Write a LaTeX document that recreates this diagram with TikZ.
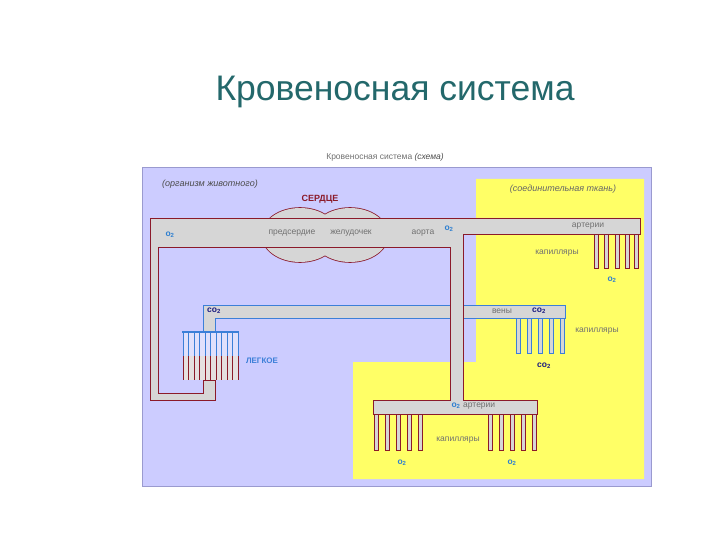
\documentclass[tikz,border=0pt]{standalone}
\usepackage{fontspec}
\setmainfont{Liberation Sans}
\definecolor{lav}{HTML}{CCCCFF}
\definecolor{panelb}{HTML}{9A9ACF}
\definecolor{yel}{HTML}{FFFF66}
\definecolor{tube}{HTML}{D6D6D6}
\definecolor{artred}{HTML}{8B1A2A}
\definecolor{vblue}{HTML}{3C7FD8}
\definecolor{txtg}{HTML}{707070}
\definecolor{teal}{HTML}{23686B}
\definecolor{oblue}{HTML}{2E7FD0}
\definecolor{dblue}{HTML}{1A1A80}
\begin{document}
\begin{tikzpicture}[x=1pt,y=-1pt,
  art/.style={fill=tube,draw=artred,line width=0.8pt},
  ven/.style={fill=tube,draw=vblue,line width=0.8pt},
  lbl/.style={text=txtg,font=\fontsize{8.5}{9}\selectfont,inner sep=0pt},
  ox/.style={text=oblue,font=\fontsize{8.5}{9}\selectfont\bfseries,inner sep=0pt},
  cox/.style={text=dblue,font=\fontsize{8.5}{9}\selectfont\bfseries,inner sep=0pt}]
\useasboundingbox (0,0) rectangle (720,540);
\fill[white] (0,0) rectangle (720,540);
\node[text=teal,font=\fontsize{35.5}{40}\selectfont,inner sep=0pt] (title) at (395,92) {Кровеносная система};
\node[text=txtg,font=\fontsize{8.5}{9}\selectfont,inner sep=0pt] (sub) at (385,157) {Кровеносная система \textcolor{black!70}{\itshape(схема)}};
% panel
\fill[lav,draw=panelb,line width=1pt] (142,168) rectangle (651,486);
\fill[yel] (476,179) -- (644,179) -- (644,479) -- (353,479) -- (353,362) -- (476,362) -- cycle;
\node[text=black!70,font=\fontsize{9}{10}\selectfont\itshape,inner sep=0pt] (org) at (210,184) {(организм животного)};
\node[text=black!60,font=\fontsize{9}{10}\selectfont\itshape,inner sep=0pt] (tis) at (563,189) {(соединительная ткань)};
% veins
\path[ven] (203,305) -- (565,305) -- (565,318) -- (215,318) -- (215,332) -- (203,332) -- cycle;
\foreach \x in {518,529,540,551,562}{\path[ven] (\x-2,318) rectangle (\x+2,353);}
% lung
\fill[black!10!blue!12] (183,332) rectangle (238,356);
\fill[red!15!black!12] (183,356) rectangle (238,380);
\foreach \i in {0,...,10}{
  \draw[vblue,line width=0.6pt] (183+\i*5.5,332) -- (183+\i*5.5,356);
  \draw[artred,line width=0.6pt] (183+\i*5.5,356) -- (183+\i*5.5,380);}
\draw[vblue,line width=1.6pt] (182,332) -- (239,332);
% heart lobes
\draw[artred,line width=1.6pt] (300,235) ellipse [x radius=38,y radius=27] (350,235) ellipse [x radius=38,y radius=27];
\fill[tube] (300,235) ellipse [x radius=38,y radius=27] (350,235) ellipse [x radius=38,y radius=27];
% arteries
\path[art] (150,218) -- (640,218) -- (640,234) -- (463,234) -- (463,400) -- (537,400) -- (537,414) -- (373,414) -- (373,400) -- (450,400) -- (450,247) -- (158,247) -- (158,393) -- (203,393) -- (203,380) -- (215,380) -- (215,400) -- (150,400) -- cycle;
\fill[tube] (266,218.6) rectangle (384,246.4);
\foreach \x in {596,606,617,627,636}{\path[art] (\x-2,234) rectangle (\x+2,268);}
\foreach \x in {376,387,398,409,420,490,501,512,523,534}{\path[art] (\x-2,414) rectangle (\x+2,450);}
% labels
\node[text=artred,font=\fontsize{9}{10}\selectfont\bfseries,inner sep=0pt] (heart) at (320,199) {СЕРДЦЕ};
\node[lbl] (atr) at (292,233) {предсердие};
\node[lbl] (ven) at (351,233) {желудочек};
\node[lbl] (aor) at (423,233) {аорта};
\node[ox] (o1) at (449,229) {o\textsubscript{2}};
\node[ox] (o0) at (170,235) {o\textsubscript{2}};
\node[lbl] (art1) at (588,226) {артерии};
\node[lbl] (cap1) at (557,253) {капилляры};
\node[ox] (o3) at (612,280) {o\textsubscript{2}};
\node[cox] (co1) at (214,311) {co\textsubscript{2}};
\node[lbl] (veny) at (502,311) {вены};
\node[cox] (co2) at (539,311) {co\textsubscript{2}};
\node[lbl] (cap2) at (597,331) {капилляры};
\node[cox] (co3) at (544,366) {co\textsubscript{2}};
\node[text=vblue,font=\fontsize{8}{9}\selectfont\bfseries,inner sep=0pt] (lung) at (262,361) {ЛЕГКОЕ};
\node[ox] (o4) at (456,406) {o\textsubscript{2}};
\node[lbl,anchor=west] (art2) at (463,406) {артерии};
\node[lbl] (cap3) at (458,440) {капилляры};
\node[ox] (o5) at (402,463) {o\textsubscript{2}};
\node[ox] (o6) at (512,463) {o\textsubscript{2}};
\end{tikzpicture}
\end{document}
